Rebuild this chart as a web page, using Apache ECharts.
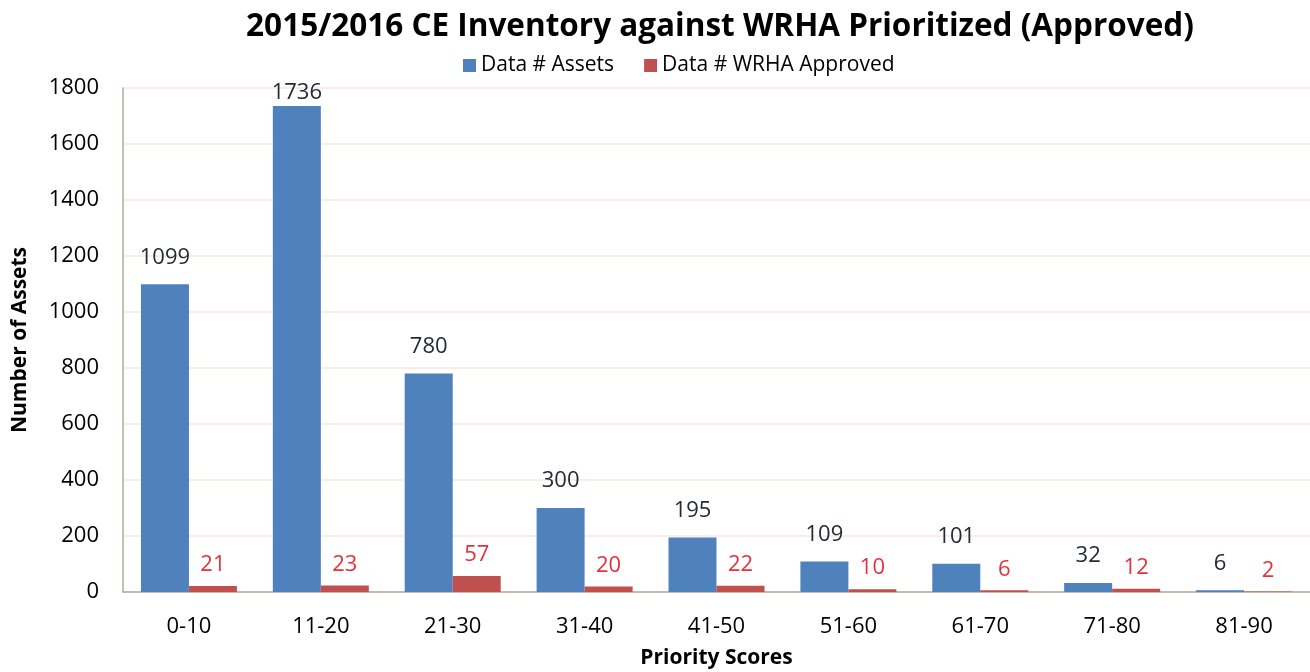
<!DOCTYPE html>
<html>
<head>
<meta charset="utf-8">
<script src="https://cdn.jsdelivr.net/npm/echarts@6/dist/echarts.min.js"></script>
<style>
    html, body { margin: 0; padding: 0; background: #fff; }
    #chart { width: 1310px; height: 672px; }
</style>
</head>
<body>
<div id="chart"></div>
<script>
// 数据
const categories = ['0-10', '11-20', '21-30', '31-40', '41-50', '51-60', '61-70', '71-80', '81-90'];
const assetValues = [1099, 1736, 780, 300, 195, 109, 101, 32, 6];
const approvedValues = [21, 23, 57, 20, 22, 10, 6, 12, 2];

const fontName = '"Open Sans", "Noto Sans", sans-serif';

var chart = echarts.init(document.getElementById('chart'));

// 1736 的标签贴近柱顶
var assetData = assetValues.map(function (v) {
    if (v === 1736) {
        return { value: v, label: { distance: 2 } };
    }
    return v;
});

option = {
    animation: false,
    title: {
        text: '2015/2016 CE Inventory against WRHA Prioritized (Approved)',
        left: 715,
        textAlign: 'center',
        top: 6,
        textStyle: {
            fontFamily: fontName,
            fontWeight: 'bold',
            fontSize: 31.5,
            color: '#000'
        }
    },
    legend: {
        top: 50,
        left: 458,
        itemWidth: 13,
        itemHeight: 13,
        itemGap: 30,
        itemTextGap: 5,
        icon: 'rect',
        textStyle: {
            fontFamily: fontName,
            fontSize: 21,
            color: '#000'
        },
        data: ['Data # Assets', 'Data # WRHA Approved']
    },
    grid: {
        left: 123,
        right: 0,
        top: 88,
        bottom: 80,
        outerBoundsMode: 'none'
    },
    xAxis: {
        type: 'category',
        data: categories,
        name: 'Priority Scores',
        nameLocation: 'middle',
        nameGap: 56,
        nameTextStyle: {
            fontFamily: fontName,
            fontWeight: 'bold',
            fontSize: 21,
            color: '#000'
        },
        axisLine: { lineStyle: { color: '#b5a89c', width: 1.5 } },
        axisTick: { show: false },
        axisLabel: {
            fontFamily: fontName,
            fontSize: 22,
            color: '#000',
            margin: 24
        }
    },
    yAxis: {
        type: 'value',
        min: 0,
        max: 1800,
        interval: 200,
        name: 'Number of Assets',
        nameLocation: 'middle',
        nameGap: 92,
        nameRotate: 90,
        nameTextStyle: {
            fontFamily: fontName,
            fontWeight: 'bold',
            fontSize: 21,
            color: '#000'
        },
        axisLine: { show: true, lineStyle: { color: '#b5a89c', width: 1.5 } },
        axisTick: { show: false },
        splitLine: { lineStyle: { color: '#fbe6da', width: 1.5 } },
        axisLabel: {
            fontFamily: fontName,
            fontSize: 22,
            color: '#000',
            margin: 24,
            formatter: function (v) { return String(v); }
        }
    },
    series: [
        {
            name: 'Data # Assets',
            type: 'bar',
            data: assetData,
            barWidth: 48,
            barGap: '0%',
            itemStyle: { color: '#4f81bd' },
            label: {
                show: true,
                position: 'top',
                distance: 16,
                fontFamily: fontName,
                fontSize: 22,
                color: '#222b38'
            }
        },
        {
            name: 'Data # WRHA Approved',
            type: 'bar',
            data: approvedValues,
            barWidth: 48,
            itemStyle: { color: '#c0504d' },
            label: {
                show: true,
                position: 'top',
                distance: 10,
                fontFamily: fontName,
                fontSize: 22,
                color: '#e3323b'
            }
        }
    ]
};

chart.setOption(option);
</script>
</body>
</html>
